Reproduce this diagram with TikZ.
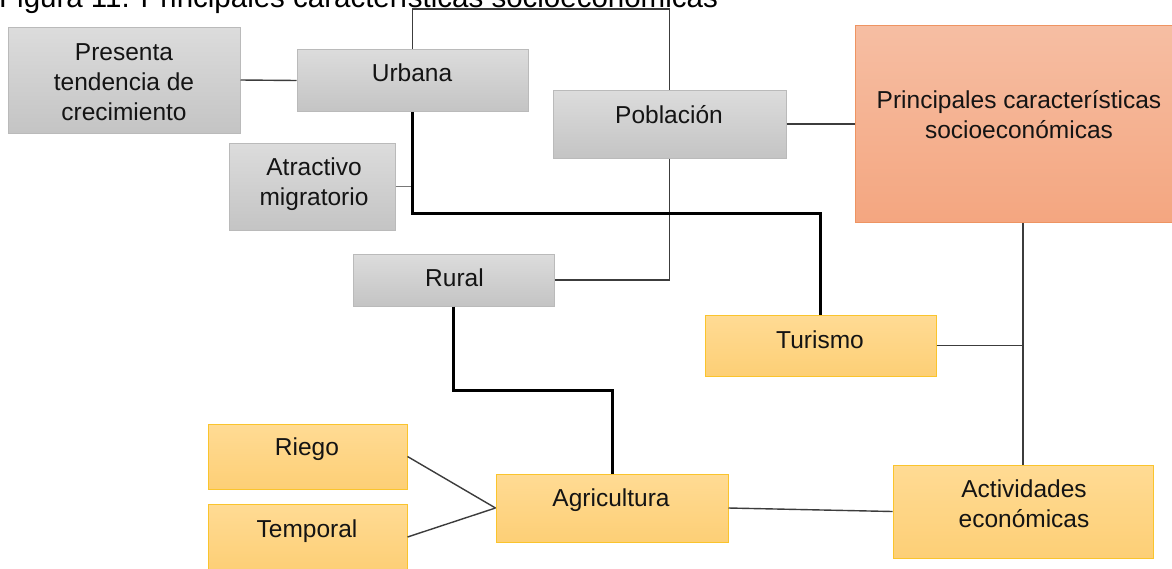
\documentclass[tikz,border=0pt]{standalone}
\usepackage{fontspec}
\setmainfont{Liberation Sans}
\usetikzlibrary{calc}

\definecolor{grayTop}{RGB}{220,220,220}
\definecolor{grayBot}{RGB}{196,196,196}
\definecolor{grayLine}{RGB}{186,186,186}
\definecolor{yelTop}{RGB}{255,219,148}
\definecolor{yelBot}{RGB}{253,207,118}
\definecolor{yelLine}{RGB}{250,196,45}
\definecolor{salTop}{RGB}{246,190,163}
\definecolor{salBot}{RGB}{244,166,128}
\definecolor{salLine}{RGB}{238,148,98}
\definecolor{linkGray}{RGB}{60,60,60}
\definecolor{linkLight}{RGB}{120,120,120}

\newcommand{\stack}[1]{\begin{tabular}[t]{@{}c@{}}#1\end{tabular}}

\tikzset{
  box/.style={rectangle, inner sep=0pt, line width=1pt},
  graybox/.style={box, draw=grayLine, top color=grayTop, bottom color=grayBot},
  yelbox/.style={box, draw=yelLine, top color=yelTop, bottom color=yelBot},
  salbox/.style={box, draw=salLine, top color=salTop, bottom color=salBot},
  lbl/.style={anchor=base, inner sep=0pt, text=black!92,
    font=\fontsize{24.5}{30}\selectfont},
  link/.style={draw=linkGray, line width=1.4pt},
  linklight/.style={draw=linkLight, line width=1.6pt},
  strong/.style={draw=black, line width=3pt},
}

\begin{document}
\begin{tikzpicture}[x=1pt, y=-1pt]
\useasboundingbox (0,0) rectangle (1172,568);
\fill[white] (0,0) rectangle (1172,568);

% caption line, mostly above the top edge
\node[anchor=base west, inner sep=0pt, font=\fontsize{29.5}{34}\selectfont]
  (title) at (-1,7) {Figura 11. Principales características socioeconómicas};

% boxes
\node[graybox, minimum width=232, minimum height=106] (pres) at (124,80) {};
\node[graybox, minimum width=231, minimum height=62]  (urb)  at (412.5,80.5) {};
\node[graybox, minimum width=233, minimum height=68]  (pob)  at (669.5,124) {};
\node[graybox, minimum width=166, minimum height=87]  (atr)  at (312,186.5) {};
\node[graybox, minimum width=201, minimum height=52]  (rur)  at (453.5,280) {};
\node[salbox,  minimum width=330, minimum height=197] (pri)  at (1020,123.5) {};
\node[yelbox,  minimum width=231, minimum height=61]  (tur)  at (820.5,345.5) {};
\node[yelbox,  minimum width=199, minimum height=65]  (rie)  at (307.5,456.5) {};
\node[yelbox,  minimum width=199, minimum height=66]  (tem)  at (307.5,537) {};
\node[yelbox,  minimum width=232, minimum height=68]  (agr)  at (612,508) {};
\node[yelbox,  minimum width=260, minimum height=93]  (act)  at (1023,511.5) {};

% labels
\node[lbl] (presT) at (124,60) {\stack{Presenta\\tendencia de\\crecimiento}};
\node[lbl] (urbT)  at (412,81) {Urbana};
\node[lbl] (pobT)  at (669,123) {Población};
\node[lbl] (atrT)  at (314,175) {\stack{Atractivo\\migratorio}};
\node[lbl] (rurT)  at (454.5,286) {Rural};
\node[lbl] (priT)  at (1019,108) {\stack{Principales características\\socioeconómicas}};
\node[lbl] (turT)  at (820,348) {Turismo};
\node[lbl] (rieT)  at (307,455) {Riego};
\node[lbl] (temT)  at (307,537) {Temporal};
\node[lbl] (agrT)  at (611,506) {Agricultura};
\node[lbl] (actT)  at (1024,497) {\stack{Actividades\\económicas}};

% bend points
\coordinate (topRun) at (540,9);
\coordinate (urbRun) at (600,213);
\coordinate (rurRun) at (530,390);

% thin connectors
\draw[link] (urb.north) |- (topRun) -| (pob.north);
\draw[link] (pres.east) -- (urb.west);
\draw[link] (pob.south) |- (rur.east);
\draw[link] (pob.east) -- (pob.east -| pri.west);
\draw[link] (act.north) -- (act.north |- pri.south);
\draw[link] (tur.east) -- (tur.east -| act.north);
\draw[link] (rie.east) -- (agr.west);
\draw[link] (tem.east) -- (agr.west);
\draw[link] (agr.east) -- (act.west);
\draw[linklight] (atr.east) -- (atr.east -| urb.south);

% heavy connectors
\draw[strong] (urb.south) |- (urbRun) -| (tur.north);
\draw[strong] (rur.south) |- (rurRun) -| (agr.north);
\end{tikzpicture}
\end{document}
